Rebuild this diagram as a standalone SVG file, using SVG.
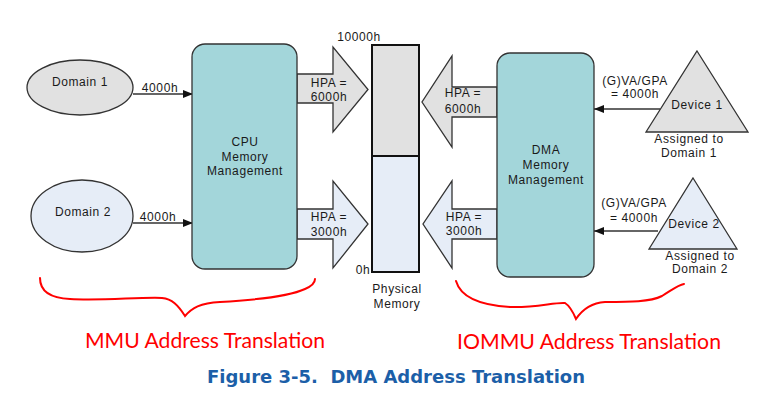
<svg xmlns="http://www.w3.org/2000/svg" width="781" height="404" viewBox="0 0 781 404">
<defs>
<style>
.t{font-family:"Liberation Sans",Arial,sans-serif;font-size:12px;fill:#1a1a1a;letter-spacing:0.6px;text-anchor:middle}
.sh{stroke:#333;stroke-width:1.3}
.grey{fill:#e1e1e1}
.blue{fill:#e6edf7}
.box{fill:#a3d6da;stroke:#333;stroke-width:1.3}
.ln{stroke:#333;stroke-width:1.3;fill:none}
.red{fill:none;stroke:#ff0000;stroke-width:2;stroke-linecap:round}
.rt{font-family:Lato,"Liberation Sans",sans-serif;font-size:22px;fill:#ff0000}
.cap{font-family:"DejaVu Sans",Verdana,sans-serif;font-weight:bold;font-size:18px;fill:#1c5fa8}
</style>
<marker id="ah" markerWidth="10" markerHeight="8" refX="10" refY="4" orient="auto" markerUnits="userSpaceOnUse">
<path d="M0,0 L10,4 L0,8 Z" fill="#111"/>
</marker>
</defs>
<rect width="781" height="404" fill="#fff"/>

<g id="connectors">
<line class="ln" x1="133" y1="94" x2="193" y2="94" marker-end="url(#ah)"/>
<text class="t" x="160" y="92">4000h</text>
<line class="ln" x1="133" y1="223" x2="193" y2="223" marker-end="url(#ah)"/>
<text class="t" x="158" y="221">4000h</text>
<line class="ln" x1="660" y1="109" x2="594" y2="109" marker-end="url(#ah)"/>
<text class="t" x="635" y="85">(G)VA/GPA</text>
<text class="t" x="635" y="98">= 4000h</text>
<line class="ln" x1="658" y1="231" x2="594" y2="231" marker-end="url(#ah)"/>
<text class="t" x="634" y="207">(G)VA/GPA</text>
<text class="t" x="634" y="222">= 4000h</text>
<g id="hpa-cpu-6000">
<polygon class="sh grey" points="297,74 333,74 333,47 368,89.5 333,132 333,103 297,103"/>
<text class="t" x="329" y="87">HPA =</text>
<text class="t" x="329" y="101">6000h</text>
</g>
<g id="hpa-cpu-3000">
<polygon class="sh blue" points="297,209 333,209 333,181 368,224 333,268 333,239 297,239"/>
<text class="t" x="329" y="221">HPA =</text>
<text class="t" x="329" y="236">3000h</text>
</g>
<g id="hpa-dma-6000">
<polygon class="sh grey" points="497,87 452,87 452,56 422,102 452,147 452,117 497,117"/>
<text class="t" x="463" y="97">HPA =</text>
<text class="t" x="463" y="113">6000h</text>
</g>
<g id="hpa-dma-3000">
<polygon class="sh blue" points="497,209 452,209 452,181 423,224 452,268 452,239 497,239"/>
<text class="t" x="464" y="221">HPA =</text>
<text class="t" x="464" y="235">3000h</text>
</g>
</g>

<g id="domain1">
<ellipse class="sh grey" cx="80" cy="87.5" rx="53" ry="27.5"/>
<text class="t" x="80" y="86">Domain 1</text>
</g>
<g id="domain2">
<ellipse class="sh blue" cx="82" cy="216" rx="51" ry="36"/>
<text class="t" x="83" y="216">Domain 2</text>
</g>
<g id="cpu-mm">
<rect class="box" x="192" y="44" width="105" height="225" rx="13"/>
<text class="t" x="245" y="146">CPU</text>
<text class="t" x="245" y="160.5">Memory</text>
<text class="t" x="245" y="175">Management</text>
</g>
<g id="physical-memory">
<rect x="372" y="45" width="47" height="111" fill="#e1e1e1" stroke="#111" stroke-width="2"/>
<rect x="372" y="156" width="47" height="116" fill="#e6edf7" stroke="#111" stroke-width="2"/>
<text class="t" x="359" y="41">10000h</text>
<text class="t" x="363" y="274">0h</text>
<text class="t" x="397" y="293">Physical</text>
<text class="t" x="397" y="308">Memory</text>
</g>
<g id="dma-mm">
<rect class="box" x="497" y="53" width="97" height="224" rx="13"/>
<text class="t" x="546" y="153.5">DMA</text>
<text class="t" x="546" y="168.5">Memory</text>
<text class="t" x="546" y="183.5">Management</text>
</g>
<g id="device1">
<polygon class="sh grey" points="697,51 748,132 646,132"/>
<text class="t" x="697" y="109">Device 1</text>
<text class="t" x="689" y="143">Assigned to</text>
<text class="t" x="689" y="157">Domain 1</text>
</g>
<g id="device2">
<polygon class="sh blue" points="693,178 737,249 649,249"/>
<text class="t" x="694" y="228">Device 2</text>
<text class="t" x="700" y="260">Assigned to</text>
<text class="t" x="700" y="273">Domain 2</text>
</g>

<g id="annotations">
<path class="red" d="M40,278 C40,290 48,298 70,299 C100,301 140,297 162,298 C172,299 178,305 185,316 C192,308 200,303 220,302 C255,300 290,296 305,289 C312,286 315,282 315,279"/>
<path class="red" d="M456,281 C460,295 475,305 510,307 C535,308 555,302 565,303 C570,306 573,312 576,319 C582,310 590,303 605,302 C630,302 650,302 662,296 C672,290 678,285 684,284"/>
<text class="rt" x="85" y="348" textLength="240" lengthAdjust="spacingAndGlyphs">MMU Address Translation</text>
<text class="rt" x="457" y="349" textLength="264" lengthAdjust="spacingAndGlyphs">IOMMU Address Translation</text>
<text class="cap" x="207" y="383" textLength="378" lengthAdjust="spacingAndGlyphs" xml:space="preserve">Figure 3-5.  DMA Address Translation</text>
</g>
</svg>
